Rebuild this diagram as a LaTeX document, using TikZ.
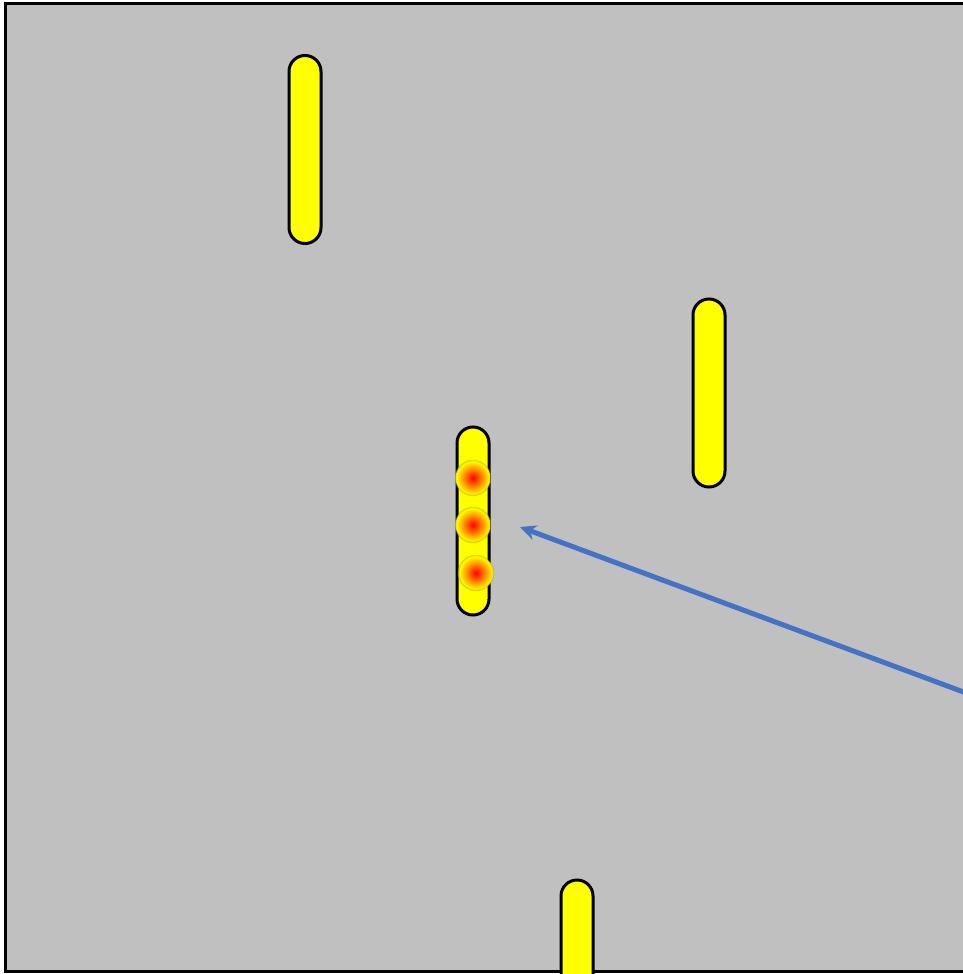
\documentclass[tikz,border=0pt]{standalone}
\usetikzlibrary{positioning,arrows.meta}

\definecolor{panelgray}{RGB}{192,192,192}
\definecolor{arrowblue}{RGB}{68,114,196}
\definecolor{rodyellow}{RGB}{255,255,0}
\definecolor{spotred}{RGB}{255,0,0}
\definecolor{spotorange}{RGB}{255,140,0}
% node radius = 25bp of the shading
\pgfdeclareradialshading{hotspot}{\pgfpoint{0bp}{0bp}}{%
  color(0bp)=(spotred);color(13bp)=(spotorange);color(24bp)=(rodyellow);color(50bp)=(rodyellow)}
\tikzset{
  rod/.style={draw=black,line width=3pt,fill=rodyellow,rounded corners=16pt,
    minimum width=32pt,minimum height=188pt,inner sep=0pt},
  spot/.style={circle,minimum size=35pt,inner sep=0pt,shading=hotspot,
    draw=yellow!60!black,draw opacity=0.4,line width=1.5pt}
}

\begin{document}
\begin{tikzpicture}[x=1pt,y=-1pt]
\useasboundingbox (0,0) rectangle (963,974);
\clip (0,0) rectangle (963,974);
% panel
\fill[white] (0,0) rectangle (963,974);
\fill[panelgray] (5,4) rectangle (1000,971);
\draw[line width=3pt] (1000,4) -- (5,4) -- (5,971) -- (1000,971);
% rods
\node[rod] (rodA) at (305,149.5) {};
\node[rod] (rodB) at (709,393) {};
\node[rod] (rodC) at (473,521) {};
\node[rod] (rodD) at (577,974) {};
% hot spots on the middle rod
\node[spot] (spotA) at (473,478) {};
\node[spot] (spotB) at (473,525) {};
\node[spot] (spotC) at (476,573) {};
% pointer
\coordinate (tail) at (985,700);
\coordinate (tip) at (520,527);
\draw[arrowblue,line width=5pt,-{Stealth[length=16pt,width=15pt,inset=5pt]}] (tail) -- (tip);
\end{tikzpicture}
\end{document}
